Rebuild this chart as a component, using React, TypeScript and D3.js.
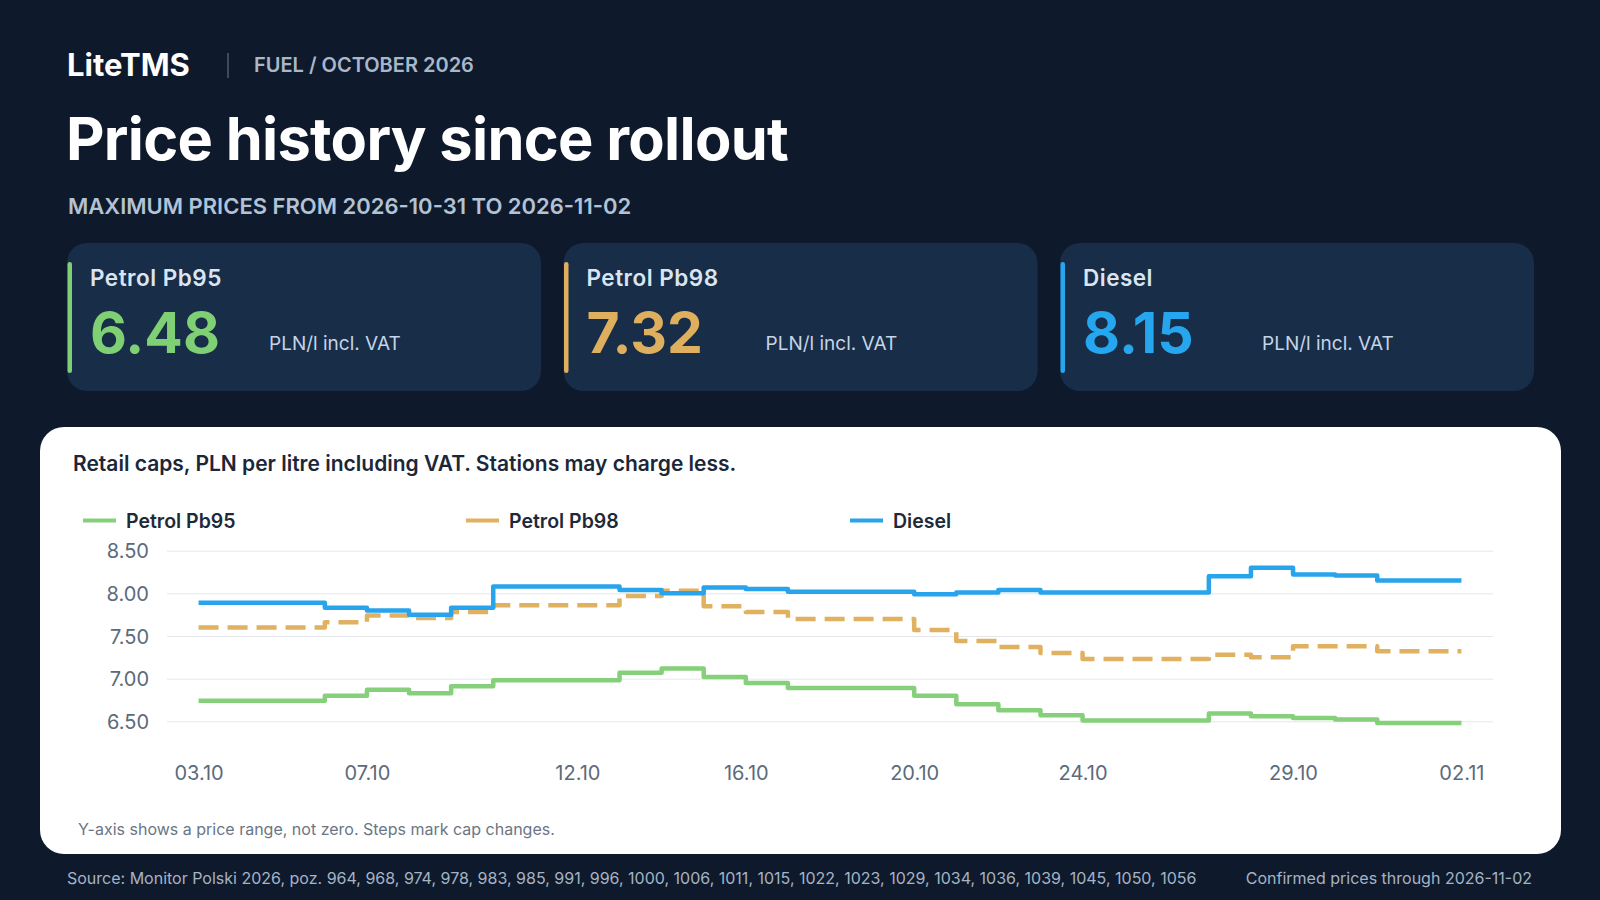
import { useEffect, useRef } from 'react'
import * as d3 from 'd3'

// cap change dates (the last one just carries the final price to the end of the range)
const dates = [
    '2026-10-03', '2026-10-06', '2026-10-07', '2026-10-08', '2026-10-09', '2026-10-10',
    '2026-10-13', '2026-10-14', '2026-10-15', '2026-10-16', '2026-10-17', '2026-10-20',
    '2026-10-21', '2026-10-22', '2026-10-23', '2026-10-24', '2026-10-27', '2026-10-28',
    '2026-10-29', '2026-10-30', '2026-10-31', '2026-11-02',
]

const pb95 = [6.74, 6.80, 6.87, 6.83, 6.91, 6.98, 7.07, 7.12, 7.02, 6.95, 6.89, 6.80, 6.70, 6.63, 6.57, 6.51, 6.59, 6.56, 6.54, 6.52, 6.48, 6.48]
const pb98 = [7.60, 7.66, 7.74, 7.71, 7.78, 7.86, 7.97, 8.03, 7.85, 7.78, 7.70, 7.57, 7.44, 7.37, 7.30, 7.23, 7.28, 7.25, 7.38, 7.38, 7.32, 7.32]
const diesel = [7.89, 7.83, 7.80, 7.75, 7.83, 8.08, 8.04, 8.00, 8.07, 8.05, 8.02, 7.99, 8.01, 8.04, 8.01, 8.01, 8.20, 8.30, 8.22, 8.21, 8.15, 8.15]

const seriesNames = ['Petrol Pb95', 'Petrol Pb98', 'Diesel']
const seriesColors = ['#86cf7b', '#e0b161', '#27a4ec']
const cardColors = ['#7fcf74', '#ddaf5e', '#25a6ee']

const yTicks = [6.5, 7.0, 7.5, 8.0, 8.5]
const xTickLabels = ['2026-10-03', '2026-10-07', '2026-10-12', '2026-10-16', '2026-10-20', '2026-10-24', '2026-10-29', '2026-11-02']

const sourceRefs = [964, 968, 974, 978, 983, 985, 991, 996, 1000, 1006, 1011, 1015, 1022, 1023, 1029, 1034, 1036, 1039, 1045, 1050, 1056]

const FONT = 'Inter, "Noto Sans", sans-serif'

const App = () => {
    const ref = useRef<SVGSVGElement | null>(null)

    useEffect(() => {
        if (!ref.current) return
        const W = 1600
        const H = 900
        const svg = d3.select(ref.current)
        svg.selectAll('*').remove()
        svg.attr('width', W).attr('height', H).style('font-family', FONT)

        svg.append('rect').attr('width', W).attr('height', H).attr('fill', '#0e1a2c')

        // header
        svg.append('text').attr('x', 67).attr('y', 76).attr('fill', '#ffffff')
            .attr('font-size', 31).attr('font-weight', 700).text('LiteTMS')
        svg.append('line').attr('x1', 228).attr('x2', 228).attr('y1', 53).attr('y2', 78)
            .attr('stroke', '#3a4a60').attr('stroke-width', 2)
        svg.append('text').attr('x', 254).attr('y', 72).attr('fill', '#a9b7ca')
            .attr('font-size', 20).attr('font-weight', 600).text('FUEL / OCTOBER 2026')
        svg.append('text').attr('x', 66).attr('y', 160).attr('fill', '#ffffff')
            .attr('font-size', 59.5).attr('font-weight', 700).attr('letter-spacing', -0.7).text('Price history since rollout')
        svg.append('text').attr('x', 68).attr('y', 214).attr('fill', '#b3c2d5')
            .attr('font-size', 22).attr('font-weight', 600).text('MAXIMUM PRICES FROM 2026-10-31 TO 2026-11-02')

        // summary cards with the latest cap per fuel
        const latest = [pb95, pb98, diesel].map(s => s[s.length - 1])
        const cardX = [67, 563.5, 1060]
        cardX.forEach((cx, i) => {
            const g = svg.append('g').attr('transform', `translate(${cx},243)`)
            g.append('rect').attr('width', 474).attr('height', 148).attr('rx', 20).attr('fill', '#182d47')
            g.append('rect').attr('x', 0.5).attr('y', 19).attr('width', 4.5).attr('height', 111)
                .attr('rx', 2.25).attr('fill', cardColors[i])
            g.append('text').attr('x', 23).attr('y', 43).attr('fill', '#dbe5f1')
                .attr('font-size', 22.5).attr('font-weight', 600).attr('letter-spacing', 0.5).text(seriesNames[i])
            g.append('text').attr('x', 23).attr('y', 110).attr('fill', cardColors[i])
                .attr('font-size', 57).attr('font-weight', 700).text(latest[i].toFixed(2))
            g.append('text').attr('x', 202).attr('y', 107).attr('fill', '#c5d4e6')
                .attr('font-size', 19).text('PLN/l incl. VAT')
        })

        // chart panel
        svg.append('rect').attr('x', 40).attr('y', 427).attr('width', 1521).attr('height', 427)
            .attr('rx', 24).attr('fill', '#ffffff')
        svg.append('text').attr('x', 73).attr('y', 471).attr('fill', '#1b2738')
            .attr('font-size', 21).attr('font-weight', 600)
            .text('Retail caps, PLN per litre including VAT. Stations may charge less.')

        const legendX = [83, 466, 850]
        seriesNames.forEach((name, i) => {
            svg.append('line').attr('x1', legendX[i]).attr('x2', legendX[i] + 33)
                .attr('y1', 520.5).attr('y2', 520.5).attr('stroke', seriesColors[i]).attr('stroke-width', 4)
            svg.append('text').attr('x', legendX[i] + 43).attr('y', 527.5).attr('fill', '#1e2a3a')
                .attr('font-size', 19.5).attr('font-weight', 600).text(name)
        })

        const parse = d3.utcParse('%Y-%m-%d')
        const t = dates.map(d => parse(d)!)

        const x = d3.scaleUtc()
            .domain([new Date(Date.UTC(2026, 9, 2, 6)), new Date(Date.UTC(2026, 10, 2, 18))])
            .range([167, 1493])
        const y = d3.scaleLinear().domain([6.5, 8.5]).range([721.3, 550.7])

        const yAxis = svg.append('g').attr('transform', 'translate(167,0)')
            .call(d3.axisLeft(y).tickValues(yTicks).tickSize(-1326).tickPadding(18).tickFormat(d3.format('.2f')))
        yAxis.select('.domain').remove()
        yAxis.selectAll('.tick line').attr('stroke', '#e3e7ec').attr('stroke-width', 1)
        yAxis.selectAll('.tick text').attr('fill', '#5c6a7b').attr('font-size', 20)
            .attr('font-family', FONT).attr('dy', '0.35em')

        const fmt = d3.utcFormat('%d.%m')
        const xAxis = svg.append('g').attr('transform', 'translate(0,721.3)')
            .call(d3.axisBottom(x).tickValues(xTickLabels.map(d => parse(d)!)).tickSize(0).tickPadding(59)
                .tickFormat(d => fmt(d as Date)))
        xAxis.select('.domain').remove()
        xAxis.selectAll('.tick text').attr('fill', '#5c6a7b').attr('font-size', 20)
            .attr('font-family', FONT).attr('dy', 0)

        const line = d3.line<number>()
            .x((_, i) => x(t[i]))
            .y(d => y(d))
            .curve(d3.curveStepAfter)

        ;[pb95, pb98, diesel].forEach((s, i) => {
            svg.append('path').attr('d', line(s)!).attr('fill', 'none')
                .attr('stroke', seriesColors[i]).attr('stroke-width', 4.5)
                .attr('stroke-linejoin', 'round')
                .attr('stroke-dasharray', i === 1 ? '20 9' : null)
        })

        svg.append('text').attr('x', 78).attr('y', 835).attr('fill', '#6b7585')
            .attr('font-size', 16).text('Y-axis shows a price range, not zero. Steps mark cap changes.')

        // footer
        svg.append('text').attr('x', 67).attr('y', 884).attr('fill', '#a6b3c4').attr('font-size', 16)
            .text(`Source: Monitor Polski 2026, poz. ${sourceRefs.join(', ')}`)
        svg.append('text').attr('x', 1532).attr('y', 884).attr('fill', '#a6b3c4').attr('font-size', 16)
            .attr('text-anchor', 'end').text('Confirmed prices through 2026-11-02')
    }, [])

    return (
        <div>
            <svg ref={ref} style={{ position: 'absolute', left: 0, top: 0, display: 'block' }}></svg>
        </div>
    )
}

export default App
